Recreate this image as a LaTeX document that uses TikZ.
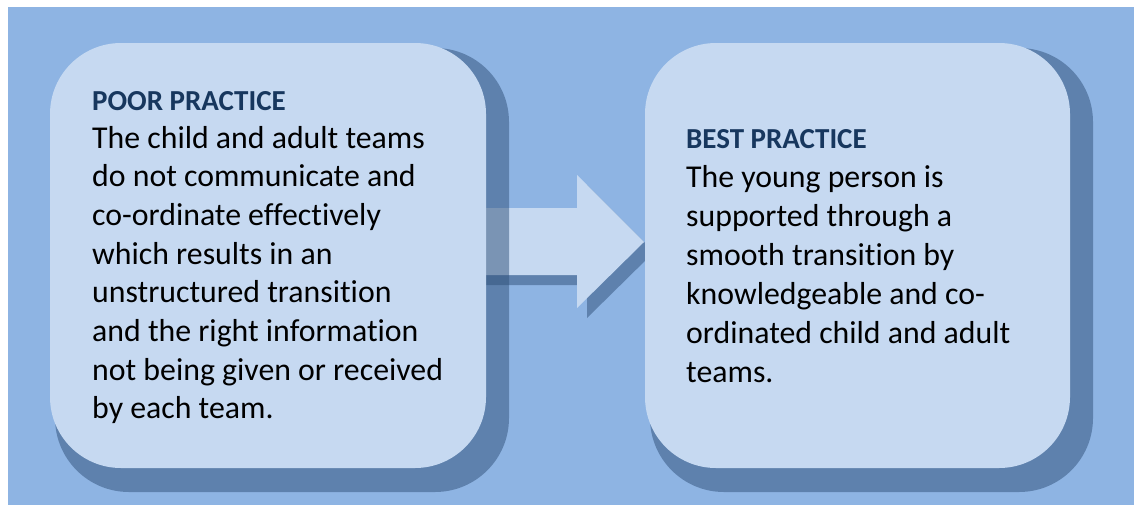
\documentclass[tikz,border=0pt]{standalone}
\usepackage{fontspec}
\setmainfont{Carlito}[Ligatures={NoCommon,NoContextual}]
\usetikzlibrary{positioning}

\definecolor{bgblue}{HTML}{8EB4E3}
\definecolor{boxblue}{HTML}{C6D9F1}
\definecolor{shadeblue}{HTML}{305079}
\definecolor{headblue}{HTML}{17375E}

\tikzset{
  box/.style={fill=boxblue, rounded corners=71pt, inner sep=0pt, outer sep=0pt},
  boxshade/.style={fill=shadeblue, fill opacity=0.5, rounded corners=74pt, inner sep=0pt, outer sep=0pt},
  heading/.style={anchor=base west, inner sep=0pt, text=headblue, font=\bfseries\fontsize{29}{35}\selectfont},
  bodyline/.style={anchor=base west, inner sep=0pt, font=\fontsize{31.8}{39}\selectfont},
}

\begin{document}
\begin{tikzpicture}[x=1pt,y=-1pt]
\useasboundingbox (0,0) rectangle (1134,506);
\fill[white] (0,0) rectangle (1134,506);
\fill[bgblue] (8,7) rectangle (1134,505);

% arrow between the two boxes
\coordinate (tip) at (644,242);
\fill[shadeblue, fill opacity=0.5] (480,218) -- (587,218) -- (587,185) -- (654,252) -- (587,318) -- (587,285) -- (480,285) -- cycle;
\fill[boxblue] (470,208) -- (577,208) -- (577,175) -- (tip) -- (577,308) -- (577,275) -- (470,275) -- cycle;

% poor practice
\node[boxshade, minimum width=454pt, minimum height=444pt] (poorshade) at (282,270) {};
\node[box, minimum width=436pt, minimum height=425pt] (poor) at (268,255.5) {};
\node[heading] (poorhead) at (92,110) {POOR PRACTICE};
\foreach \txt [count=\i] in {The child and adult teams, do not communicate and,
  co-ordinate effectively, which results in an, unstructured transition,
  and the right information, not being given or received, by each team.}
  \node[bodyline] (poor-\i) at (92,{148+38.7*(\i-1)}) {\txt};

% best practice
\node[boxshade, minimum width=443pt, minimum height=444pt] (bestshade) at (871.5,270) {};
\node[box, minimum width=425pt, minimum height=425pt] (best) at (857.5,255.5) {};
\node[heading] (besthead) at (686,148) {BEST PRACTICE};
\foreach \txt [count=\i] in {The young person is, supported through a,
  smooth transition by, knowledgeable and co-, ordinated child and adult, teams.}
  \node[bodyline] (best-\i) at (686,{187+39*(\i-1)}) {\txt};
\end{tikzpicture}
\end{document}
